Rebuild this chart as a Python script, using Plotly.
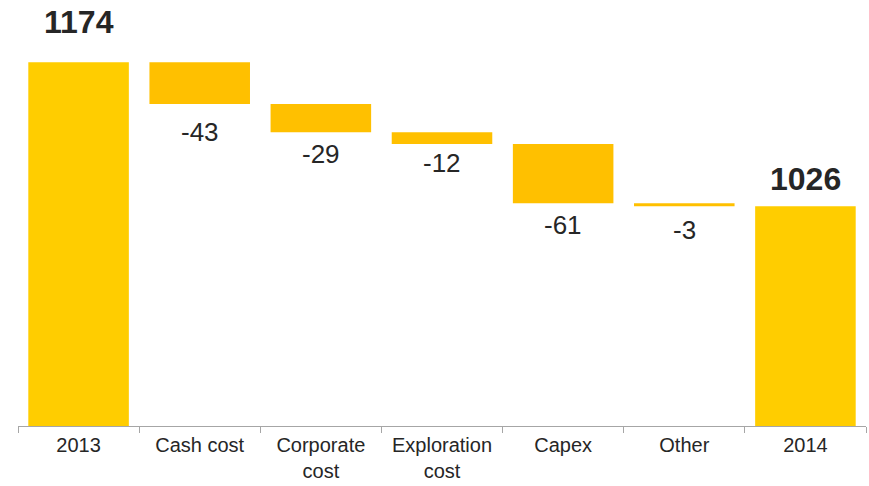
import plotly.graph_objects as go

# Cash-flow bridge from 2013 to 2014
categories = ["2013", "Cash cost", "Corporate<br>cost", "Exploration<br>cost",
              "Capex", "Other", "2014"]
start_value = 1174
changes = [-43, -29, -12, -61, -3]

measures = ["absolute"] + ["relative"] * len(changes) + ["total"]
end_value = start_value + sum(changes)
values = [start_value] + changes + [end_value]

TOTAL_COLOR = "#FFCD00"
STEP_COLOR = "#FFC000"
TEXT_COLOR = "#262626"
FONT = "Liberation Sans, Arial, sans-serif"

fig = go.Figure(go.Waterfall(
    x=categories,
    y=values,
    measure=measures,
    base=0,
    totals=dict(marker=dict(color=TOTAL_COLOR, line=dict(width=0))),
    decreasing=dict(marker=dict(color=STEP_COLOR, line=dict(width=0))),
    increasing=dict(marker=dict(color=STEP_COLOR, line=dict(width=0))),
    connector=dict(visible=False),
    textinfo="none",
    hoverinfo="x+y",
))

# Value labels: totals above their bars (bold), steps below their bars
label_shift = [40, -28, -21.5, -19.5, -22, -24, 27]
running = start_value
annotations = []
for i, (m, v) in enumerate(zip(measures, values)):
    if m == "relative":
        running += v
        anchor_y = running  # bottom edge of a decreasing step
        text = f"{v:d}"
        font = dict(family=FONT, size=26, color=TEXT_COLOR)
    else:
        anchor_y = v
        text = f"<b>{v:d}</b>"
        font = dict(family=FONT, size=32, color=TEXT_COLOR)
    annotations.append(dict(
        x=i, y=anchor_y, xref="x", yref="y",
        text=text, showarrow=False, font=font,
        xanchor="center", yanchor="middle", yshift=label_shift[i],
    ))

fig.update_layout(
    width=869, height=486,
    margin=dict(l=18, r=3, t=20, b=60, autoexpand=False),
    paper_bgcolor="white", plot_bgcolor="white",
    showlegend=False,
    waterfallgap=0.17,
    annotations=annotations,
    font=dict(family=FONT, color=TEXT_COLOR),
)
fig.update_xaxes(
    type="category", categoryorder="array", categoryarray=categories,
    range=[-0.5, len(categories) - 0.5], automargin=False,
    showline=True, linecolor="#A6A6A6", linewidth=1.3,
    ticks="outside", tickson="boundaries", ticklen=6, tickcolor="#A6A6A6",
    tickwidth=1.3, tickangle=0, ticklabelstandoff=1,
    tickfont=dict(family=FONT, size=20, color=TEXT_COLOR),
    showgrid=False,
)
fig.update_yaxes(
    range=[800, 1217.5], visible=False, showgrid=False, zeroline=False,
    automargin=False,
)

fig.write_html("out.html")
